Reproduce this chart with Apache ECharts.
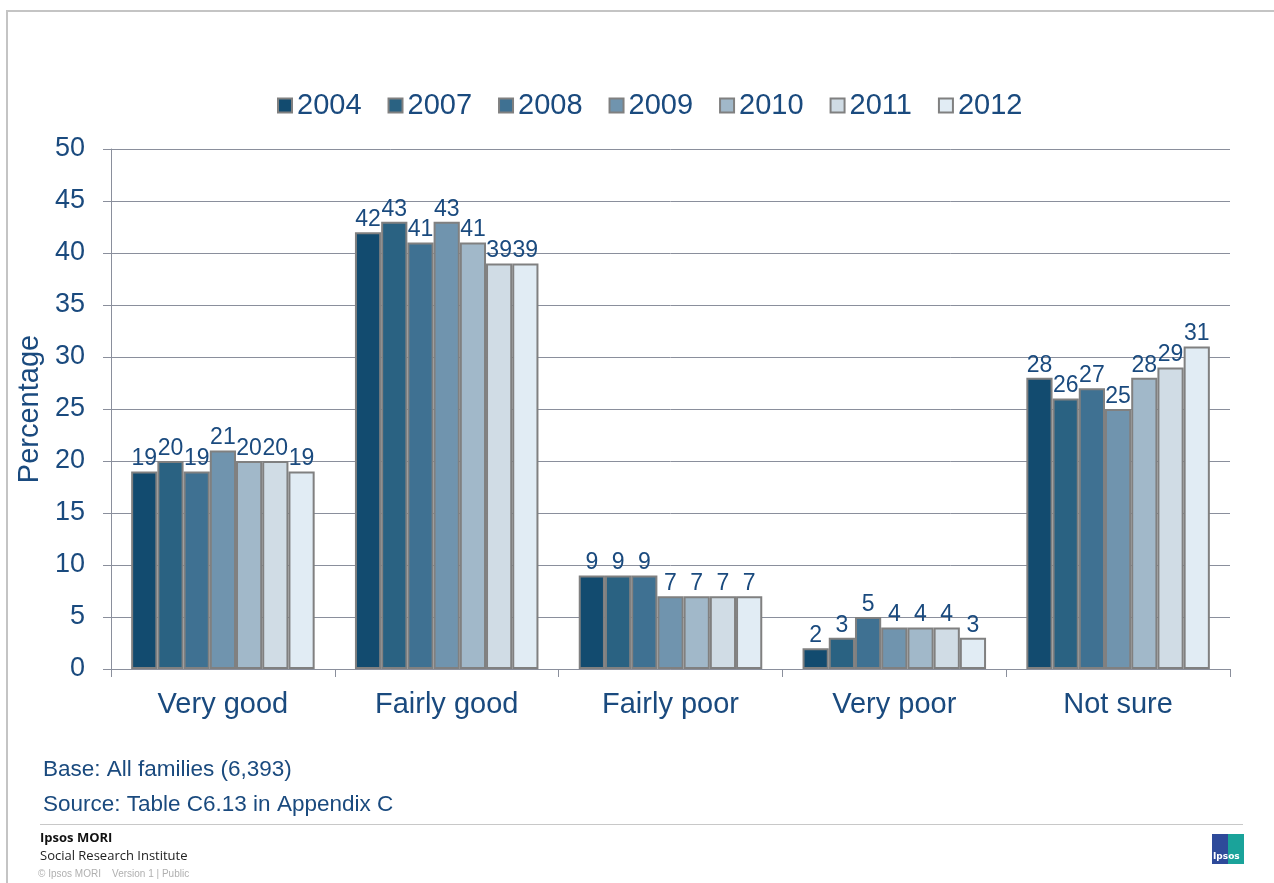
<!DOCTYPE html>
<html><head><meta charset="utf-8">
<script src="https://cdn.jsdelivr.net/npm/echarts@6/dist/echarts.min.js"></script>
<style>html,body{margin:0;padding:0;background:#fff}#c{width:1274px;height:883px}</style>
</head><body><div id="c"></div>
<script>
const categories = ['Very good','Fairly good','Fairly poor','Very poor','Not sure'];
const years = ['2004','2007','2008','2009','2010','2011','2012'];
const v2004 = [19,42,9,2,28];
const v2007 = [20,43,9,3,26];
const v2008 = [19,41,9,5,27];
const v2009 = [21,43,7,4,25];
const v2010 = [20,41,7,4,28];
const v2011 = [20,39,7,4,29];
const v2012 = [19,39,7,3,31];
const yTicks = [0,5,10,15,20,25,30,35,40,45,50];

const seriesData = [v2004,v2007,v2008,v2009,v2010,v2011,v2012];
const colors = ['#124B6F','#2A6282','#3F7192','#7094AE','#A1B8C9','#D0DCE5','#E1ECF4'];
const textBlue = '#1A4A7E';

const chart = echarts.init(document.getElementById('c'));
chart.setOption({
  animation:false,
  textStyle:{fontFamily:'Liberation Sans, Arial, sans-serif'},
  legend:{
    top:86, left:272, itemGap:26, itemWidth:14, itemHeight:14,
    icon:'rect',
    itemStyle:{borderColor:'#808080',borderWidth:2},
    textStyle:{fontSize:29,color:textBlue,padding:[0,0,0,0]},
    data: years
  },
  grid:{left:111,right:44,top:149,bottom:214,containLabel:false},
  xAxis:{
    type:'category', data:categories,
    axisLine:{lineStyle:{color:'#8a8f9c',width:1}},
    axisTick:{show:true,length:8,lineStyle:{color:'#8a8f9c'}},
    axisLabel:{fontSize:29,color:textBlue,margin:21}
  },
  yAxis:{
    type:'value', min:0, max:50, interval:5,
    name:'Percentage', nameLocation:'middle', nameGap:60, nameRotate:90,
    nameTextStyle:{fontSize:29,color:textBlue},
    axisLine:{show:true,lineStyle:{color:'#8a8f9c'}},
    axisTick:{show:true,length:8,lineStyle:{color:'#8a8f9c'}},
    axisLabel:{fontSize:27,color:textBlue,margin:26,
      formatter:function(v){return yTicks.indexOf(v)>=0?String(v):'';}},
    splitLine:{lineStyle:{color:'#8a8f9c',width:1}}
  },
  series: years.map((y,i)=>({
    name:y, type:'bar', data:seriesData[i],
    barGap:'0%', barCategoryGap:'18%',
    itemStyle:{color:colors[i],borderColor:'#808080',borderWidth:2},
    label:{show:true,position:'top',distance:1,fontSize:23,color:textBlue}
  })),
  graphic:[
    {type:'rect',shape:{x:6,y:10,width:1268,height:2},style:{fill:'#c4c4c4'},silent:true},
    {type:'rect',shape:{x:6,y:10,width:2,height:873},style:{fill:'#c4c4c4'},silent:true},
    {type:'text',left:43,top:758,style:{text:'Base: All families (6,393)',fontSize:22.5,fill:textBlue,fontFamily:'Liberation Sans, Arial'}},
    {type:'text',left:43,top:793,style:{text:'Source: Table C6.13 in Appendix C',fontSize:22.5,fill:textBlue,fontFamily:'Liberation Sans, Arial'}},
    {type:'rect',shape:{x:40,y:824,width:1203,height:1},style:{fill:'#c8c8c8'},silent:true},
    {type:'text',left:40,top:832,style:{text:'Ipsos MORI',fontSize:13,fontWeight:'bold',fill:'#111',fontFamily:'Open Sans, DejaVu Sans'}},
    {type:'text',left:40,top:850,style:{text:'Social Research Institute',fontSize:13,fill:'#222',fontFamily:'Open Sans, DejaVu Sans'}},
    {type:'text',left:38,top:869,style:{text:'© Ipsos MORI    Version 1 | Public',fontSize:10,fill:'#b0b0b0',fontFamily:'Liberation Sans, Arial'}},
    {type:'rect',shape:{x:1212,y:834,width:16,height:30},style:{fill:'#2E4A9A'},silent:true},
    {type:'rect',shape:{x:1228,y:834,width:16,height:30},style:{fill:'#1AA39A'},silent:true},
    {type:'text',left:1213,top:852,style:{text:'Ipsos',fontSize:9,fontWeight:'bold',fill:'#fff',fontFamily:'DejaVu Sans'}}
  ]
});
</script></body></html>
